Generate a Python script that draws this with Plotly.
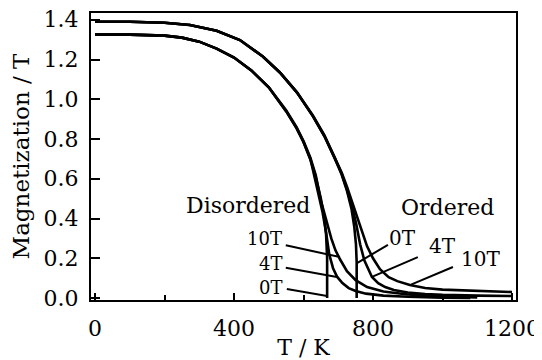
import plotly.graph_objects as go

# ---- data ----
dis_0T_T = [0, 100, 200, 250, 300, 350, 400, 450, 500, 550, 580, 600, 620, 635, 650, 660, 665, 668, 668]
dis_0T_M = [1.325, 1.325, 1.32, 1.31, 1.29, 1.255, 1.21, 1.145, 1.06, 0.94, 0.855, 0.785, 0.695, 0.61, 0.50, 0.40, 0.32, 0.20, 0.0]

dis_4T_T = [0, 100, 200, 250, 300, 350, 400, 450, 500, 550, 580, 600, 620, 640, 655, 665, 674, 685, 697, 712, 730, 750, 780, 830, 900, 1000, 1080]
dis_4T_M = [1.325, 1.325, 1.32, 1.31, 1.29, 1.255, 1.21, 1.145, 1.06, 0.94, 0.855, 0.785, 0.70, 0.54, 0.43, 0.33, 0.22, 0.15, 0.106, 0.075, 0.05, 0.035, 0.022, 0.012, 0.006, 0.002, 0.0]

dis_10T_T = [0, 100, 200, 250, 300, 350, 400, 450, 500, 550, 580, 600, 620, 635, 650, 665, 680, 692, 705, 725, 750, 783, 830, 900, 1000, 1100]
dis_10T_M = [1.325, 1.325, 1.32, 1.31, 1.29, 1.255, 1.21, 1.145, 1.06, 0.945, 0.86, 0.79, 0.705, 0.62, 0.49, 0.39, 0.30, 0.24, 0.195, 0.135, 0.09, 0.055, 0.033, 0.018, 0.008, 0.003]

ord_0T_T = [0, 100, 200, 273, 350, 417, 483, 532, 581, 627, 660, 690, 710, 725, 738, 746, 751, 753, 753]
ord_0T_M = [1.39, 1.39, 1.385, 1.374, 1.345, 1.298, 1.215, 1.135, 1.035, 0.915, 0.815, 0.705, 0.62, 0.54, 0.45, 0.36, 0.27, 0.18, 0.0]

ord_4T_T = [0, 100, 200, 273, 350, 417, 483, 532, 581, 627, 660, 690, 710, 725, 740, 752, 763, 775, 787, 797, 815, 835, 860, 900, 950, 1000, 1100, 1200]
ord_4T_M = [1.39, 1.39, 1.385, 1.374, 1.345, 1.298, 1.215, 1.135, 1.035, 0.915, 0.815, 0.705, 0.625, 0.545, 0.46, 0.37, 0.27, 0.19, 0.14, 0.106, 0.075, 0.055, 0.04, 0.028, 0.02, 0.016, 0.012, 0.01]

ord_10T_T = [0, 100, 200, 273, 350, 417, 483, 532, 581, 627, 660, 690, 710, 725, 740, 755, 770, 783, 800, 820, 845, 870, 906, 950, 1000, 1100, 1200]
ord_10T_M = [1.39, 1.39, 1.385, 1.374, 1.345, 1.298, 1.215, 1.135, 1.035, 0.918, 0.82, 0.71, 0.63, 0.56, 0.48, 0.40, 0.32, 0.26, 0.20, 0.145, 0.105, 0.085, 0.065, 0.05, 0.042, 0.035, 0.03]

# leader lines: [T_label_end, T_curve_end], [M_label_end, M_curve_end]
leaders = {
    "dis10": ([549, 705], [0.265, 0.206]),
    "dis4": ([549, 696], [0.152, 0.106]),
    "dis0": ([552, 668], [0.045, 0.010]),
    "ord0": ([843, 754], [0.267, 0.176]),
    "ord4": ([929, 797], [0.206, 0.106]),
    "ord10": ([1030, 906], [0.156, 0.065]),
}

# text labels: (text, T, M, xanchor, size)
labels = [
    ("Disordered", 440, 0.468, "center", 22),
    ("Ordered", 1013, 0.453, "center", 22),
    ("10T", 540, 0.297, "right", 18),
    ("4T", 540, 0.176, "right", 18),
    ("0T", 540, 0.055, "right", 18),
    ("0T", 886, 0.302, "center", 20),
    ("4T", 999, 0.262, "center", 20),
    ("10T", 1108, 0.196, "center", 20),
]

x_ticks = [0, 400, 800, 1200]
x_minor = [200, 600, 1000]
y_ticks = [0.0, 0.2, 0.4, 0.6, 0.8, 1.0, 1.2, 1.4]
y_tick_text = ["0.0", "0.2", "0.4", "0.6", "0.8", "1.0", "1.2", "1.4"]

FONT = "DejaVu Serif"

fig = go.Figure()
curves = [
    (dis_0T_T, dis_0T_M), (dis_4T_T, dis_4T_M), (dis_10T_T, dis_10T_M),
    (ord_0T_T, ord_0T_M), (ord_4T_T, ord_4T_M), (ord_10T_T, ord_10T_M),
]
for t, m in curves:
    fig.add_trace(go.Scatter(x=t, y=m, mode="lines",
                             line=dict(color="black", width=2.6),
                             showlegend=False, hoverinfo="skip"))
for key, (lt, lm) in leaders.items():
    fig.add_trace(go.Scatter(x=lt, y=lm, mode="lines",
                             line=dict(color="black", width=2),
                             showlegend=False, hoverinfo="skip"))

for text, t, m, xa, sz in labels:
    fig.add_annotation(x=t, y=m, text=text, showarrow=False, xanchor=xa,
                       yanchor="middle", xref="x", yref="y", borderpad=0,
                       font=dict(family=FONT, size=sz, color="black"))

# page body has an 8px default margin, so the figure is 534x352
fig.update_layout(
    width=534, height=352,
    margin=dict(l=83, r=26, t=5, b=60, autoexpand=False),
    paper_bgcolor="white", plot_bgcolor="white",
    font=dict(family=FONT, size=22, color="black"),
    showlegend=False,
)
fig.update_xaxes(
    range=[-11.5, 1211.5], tickvals=x_ticks, ticktext=[str(v) for v in x_ticks],
    ticks="inside", ticklen=7, tickwidth=2, tickcolor="black",
    minor=dict(tickvals=x_minor, ticks="inside", ticklen=5, tickwidth=2, tickcolor="black"),
    showline=True, linecolor="black", linewidth=2, mirror=True,
    showgrid=False, zeroline=False, automargin=False,
    tickfont=dict(family=FONT, size=22), ticklabeloverflow="allow",
    title=dict(text="T / K", font=dict(family=FONT, size=22), standoff=0),
    ticklabelstandoff=8,
)
fig.update_yaxes(
    range=[-0.01, 1.434], tickvals=y_ticks, ticktext=y_tick_text,
    ticks="inside", ticklen=9, tickwidth=2, tickcolor="black",
    showline=True, linecolor="black", linewidth=2, mirror=True,
    showgrid=False, zeroline=False, automargin=False,
    tickfont=dict(family=FONT, size=22), ticklabeloverflow="allow",
    title=dict(text="Magnetization / T", font=dict(family=FONT, size=23), standoff=8),
    ticklabelstandoff=6,
)

fig.write_html("out.html")
